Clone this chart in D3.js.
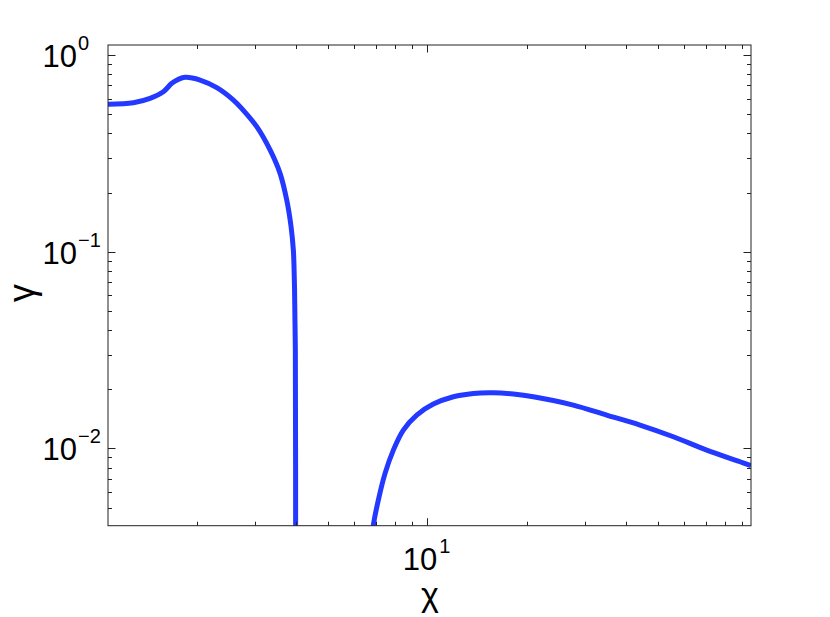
<!DOCTYPE html>
<html>
<head>
<meta charset="utf-8">
<script src="https://cdn.jsdelivr.net/npm/d3@7"></script>
<style>
  body { margin: 0; background: #fff; }
  svg text { font-family: "Liberation Sans", Arimo, Arial, Helvetica, sans-serif; }
</style>
</head>
<body>
<div id="chart"></div>
<script>
// growth rate gamma vs chi (two branches, gamma <= 0 in between)
var chiLeft = [1.077, 1.286, 1.444, 1.585, 1.681, 1.76, 1.845, 2.048, 2.301, 2.584, 2.740, 3.041, 3.337, 3.578, 3.749, 3.864, 3.926, 3.943, 3.958, 3.970, 3.981, 3.99];
var gammaLeft = [0.5616, 0.572, 0.602, 0.651, 0.718, 0.752, 0.770, 0.746, 0.682, 0.590, 0.534, 0.432, 0.329, 0.2503, 0.1832, 0.134, 0.102, 0.0856, 0.066, 0.045, 0.0317, 0.002];

var chiRight = [6.80, 6.862, 7.105, 7.445, 7.889, 8.459, 9.288, 10.43, 11.99, 13.79, 15.85, 18.23, 20.95, 27.70, 34.96, 44.11, 55.66, 70.26, 88.63, 95.7];
var gammaRight = [0.0035, 0.00408, 0.00547, 0.00747, 0.00981, 0.0124, 0.01478, 0.01681, 0.01832, 0.01905, 0.01919, 0.0189, 0.01832, 0.01662, 0.01478, 0.01315, 0.01147, 0.00981, 0.00856, 0.00817];

var xMajor = [10];
var xMinor = [2, 3, 4, 5, 6, 7, 8, 9, 20, 30, 40, 50, 60, 70, 80, 90];
var yMajor = [1, 0.1, 0.01];
var yMinor = [0.005, 0.006, 0.007, 0.008, 0.009, 0.02, 0.03, 0.04, 0.05, 0.06, 0.07, 0.08, 0.09, 0.2, 0.3, 0.4, 0.5, 0.6, 0.7, 0.8, 0.9];
var xLabels = [{v: 10, exp: "1"}];
var yLabels = [{v: 1, exp: "0"}, {v: 0.1, exp: "\u22121"}, {v: 0.01, exp: "\u22122"}];

(function() {
  var W = 830, H = 617;
  var pL = 108, pT = 45, pR = 751, pB = 525.7;

  var svg = d3.select("#chart").append("svg")
    .attr("width", W)
    .attr("height", H);

  var x = d3.scaleLog().domain([1.077, 95.7]).range([pL, pR]);
  var y = d3.scaleLog().domain([0.00405, 1.124]).range([pB, pT]);

  svg.append("clipPath").attr("id", "clip")
    .append("rect")
    .attr("x", pL).attr("y", pT)
    .attr("width", pR - pL).attr("height", pB - pT);

  var line = d3.line()
    .x(d => x(d[0]))
    .y(d => y(d[1]))
    .curve(d3.curveCatmullRom.alpha(0.5));

  var plot = svg.append("g").attr("clip-path", "url(#clip)");
  [[chiLeft, gammaLeft], [chiRight, gammaRight]].forEach(function(s) {
    plot.append("path")
      .datum(d3.zip(s[0], s[1]))
      .attr("d", line)
      .attr("fill", "none")
      .attr("stroke", "#2339ff")
      .attr("stroke-width", 5);
  });

  // ticks, inward on all four sides
  var ticks = svg.append("g").attr("stroke", "#222").attr("stroke-width", 1);
  function xTick(v, len) {
    var px = Math.round(x(v)) + 0.5;
    ticks.append("line").attr("x1", px).attr("x2", px).attr("y1", pB).attr("y2", pB - len);
    ticks.append("line").attr("x1", px).attr("x2", px).attr("y1", pT).attr("y2", pT + len);
  }
  function yTick(v, len) {
    var py = Math.round(y(v)) + 0.5;
    ticks.append("line").attr("x1", pL).attr("x2", pL + len).attr("y1", py).attr("y2", py);
    ticks.append("line").attr("x1", pR).attr("x2", pR - len).attr("y1", py).attr("y2", py);
  }
  xMinor.forEach(v => xTick(v, 4));
  xMajor.forEach(v => xTick(v, 7.5));
  yMinor.forEach(v => yTick(v, 4));
  yMajor.forEach(v => yTick(v, 7.5));

  // box
  svg.append("rect")
    .attr("x", pL).attr("y", pT)
    .attr("width", pR - pL).attr("height", pB - pT)
    .attr("fill", "none")
    .attr("stroke", "#222")
    .attr("stroke-width", 1);

  // tick labels
  yLabels.forEach(function(d) {
    var py = y(d.v);
    svg.append("text")
      .attr("x", 77).attr("y", py + 12)
      .attr("text-anchor", "end")
      .attr("font-size", 31)
      .text("10");
    svg.append("text")
      .attr("x", 78).attr("y", py - 5)
      .attr("font-size", 20)
      .text(d.exp);
  });
  xLabels.forEach(function(d) {
    var px = x(d.v);
    svg.append("text")
      .attr("x", px + 10).attr("y", 570)
      .attr("text-anchor", "end")
      .attr("font-size", 31)
      .text("10");
    svg.append("text")
      .attr("x", px + 12).attr("y", 553)
      .attr("font-size", 20)
      .text(d.exp);
  });

  // axis titles
  svg.append("text")
    .attr("x", 430).attr("y", 606)
    .attr("text-anchor", "middle")
    .attr("font-size", 34)
    .text("\u03c7");
  svg.append("text")
    .attr("transform", "translate(34,293) rotate(-90)")
    .attr("text-anchor", "middle")
    .attr("font-size", 36)
    .text("\u03b3");
})();
</script>
</body>
</html>
